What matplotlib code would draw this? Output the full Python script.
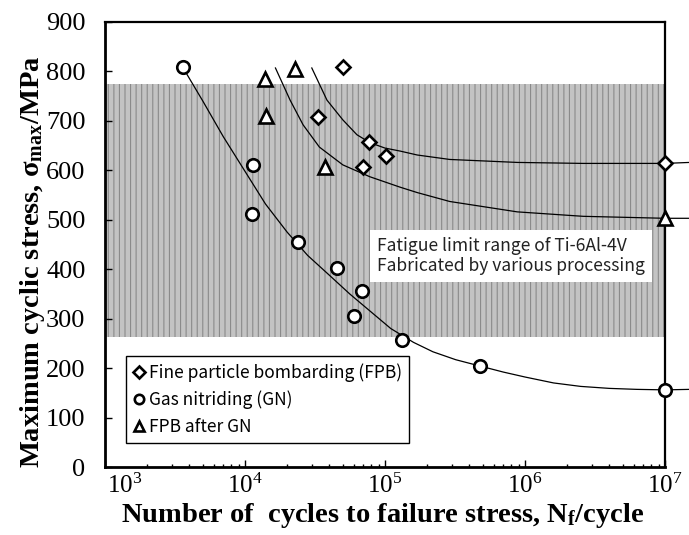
import matplotlib
matplotlib.use("Agg")
import matplotlib.pyplot as plt
import matplotlib.transforms as mtransforms
from matplotlib.ticker import FixedLocator, LogLocator, NullFormatter

plt.rcParams["font.family"] = "Liberation Serif"
plt.rcParams["mathtext.fontset"] = "custom"
plt.rcParams["mathtext.rm"] = "Liberation Serif"
plt.rcParams["mathtext.it"] = "Liberation Serif:italic"
plt.rcParams["mathtext.bf"] = "Liberation Serif:bold"
plt.rcParams["hatch.linewidth"] = 0.8

SANS = "Noto Sans CJK JP"

# measured fatigue lives (cycles) and stresses (MPa)
fpb_n = [5.03e4, 3.34e4, 7.73e4, 1.02e5, 6.93e4, 1e7]
fpb_s = [808, 707, 657, 630, 606, 614]

gn_n = [3.62e3, 1.135e4, 1.117e4, 2.38e4, 4.52e4, 6.83e4, 6.01e4, 1.33e5, 4.77e5, 1e7]
gn_s = [808, 611, 512, 455, 403, 356, 305, 257, 205, 156]

fpbgn_n = [1.39e4, 2.28e4, 1.41e4, 3.73e4, 1e7]
fpbgn_s = [784, 805, 709, 606, 503]

# S-N trend curves
gn_curve_n = [3.6e3, 5e3, 7e3, 1e4, 1.4e4, 2e4, 2.8e4, 4e4, 5.6e4, 8e4, 1.1e5, 1.6e5,
              2.2e5, 3.2e5, 4.8e5, 7e5, 1e6, 1.6e6, 2.5e6, 4e6, 6.3e6, 1e7, 1.5e7]
gn_curve_s = [808, 740, 668, 598, 532, 475, 428, 388, 350, 313, 280, 252,
              233, 217, 204, 192, 182, 170, 163, 159, 157, 156, 157]

fpbgn_curve_n = [1.65e4, 2.1e4, 2.6e4, 3.4e4, 5e4, 7.8e4, 1.28e5, 1.7e5, 2.9e5, 8.8e5,
                 2.6e6, 1e7, 1.5e7]
fpbgn_curve_s = [807, 742, 692, 647, 611, 587, 566, 555, 537, 516, 507, 503, 503]

fpb_curve_n = [3.0e4, 3.85e4, 5.0e4, 6.3e4, 7.8e4, 1.0e5, 1.28e5, 1.7e5, 2.9e5, 8.8e5,
               2.6e6, 1e7, 1.5e7]
fpb_curve_s = [807, 742, 702, 672, 656, 645, 639, 631, 622, 616, 614, 614, 616]

# fatigue limit band of Ti-6Al-4V (MPa)
band_low, band_high = 263, 775

x_ticks = [1e3, 1e4, 1e5, 1e6, 1e7]
x_ticklabels = [r"$\mathdefault{10^{3}}$", r"$\mathdefault{10^{4}}$", r"$\mathdefault{10^{5}}$",
                r"$\mathdefault{10^{6}}$", r"$\mathdefault{10^{7}}$"]
y_ticks = [0, 100, 200, 300, 400, 500, 600, 700, 800, 900]

fig = plt.figure(figsize=(6.89, 5.35), dpi=100)
ax = fig.add_axes([105 / 689, 68 / 535, 560 / 689, 445 / 535])
ax.set_xscale("log")
ax.set_xlim(1e3, 1e7)
ax.set_ylim(0, 900)

ax.axhspan(band_low, band_high, facecolor="#c3c3c3", edgecolor="#8a8a8a",
           hatch="|||", linewidth=0, zorder=0)

for cn, cs in [(gn_curve_n, gn_curve_s), (fpbgn_curve_n, fpbgn_curve_s), (fpb_curve_n, fpb_curve_s)]:
    ax.plot(cn, cs, color="black", lw=0.9, zorder=2, clip_on=False)

mk = dict(linestyle="none", mfc="white", mec="black", mew=1.9, zorder=4, clip_on=False)
ax.plot(fpb_n, fpb_s, marker="D", ms=7.5, label="Fine particle bombarding (FPB)", **mk)
ax.plot(gn_n, gn_s, marker="o", ms=9, label="Gas nitriding (GN)", **mk)
ax.plot(fpbgn_n, fpbgn_s, marker="^", ms=9.5, label="FPB after GN", **mk)

ax.text(0.486, 0.474, "Fatigue limit range of Ti-6Al-4V\nFabricated by various processing",
        transform=ax.transAxes, ha="left", va="center", fontsize=12.6, family=SANS,
        color="#222222", linespacing=1.2,
        bbox=dict(boxstyle="square,pad=0.4", fc="white", ec="none"), zorder=3)

leg = ax.legend(loc="lower left", bbox_to_anchor=(0.0375, 0.054), borderaxespad=0,
                prop={"family": SANS, "size": 12.5}, markerscale=0.75, handlelength=0.6,
                handletextpad=0.3, labelspacing=0.48, borderpad=0.42, fancybox=False,
                framealpha=1, edgecolor="black")
leg.get_frame().set_linewidth(1.0)
leg.set_zorder(5)

ax.xaxis.set_major_locator(FixedLocator(x_ticks))
ax.set_xticklabels(x_ticklabels)
ax.xaxis.set_minor_locator(LogLocator(base=10, subs=range(2, 10), numticks=20))
ax.xaxis.set_minor_formatter(NullFormatter())
ax.set_yticks(y_ticks)

ax.tick_params(axis="x", which="major", direction="in", length=5, width=1, labelsize=18, pad=5)
ax.tick_params(axis="x", which="minor", direction="in", length=2.5, width=1)
ax.tick_params(axis="y", direction="in", length=5, width=1, labelsize=19, pad=14)
for side in ["left", "bottom"]:
    ax.spines[side].set_linewidth(2.0)
for side in ["top", "right"]:
    ax.spines[side].set_linewidth(1.6)

# nudge the 10^3 label off the corner
first = ax.xaxis.get_major_ticks()[0].label1
first.set_transform(first.get_transform() + mtransforms.ScaledTranslation(0.2, 0, fig.dpi_scale_trans))

ax.set_xlabel(r"Number of  cycles to failure stress, $\mathbf{N_f}$/cycle", fontsize=20.5, fontweight="bold")
ax.xaxis.set_label_coords(0.495, -0.108)
ax.xaxis.label.set_va("center")
ax.set_ylabel(r"Maximum cyclic stress, $\mathbf{\sigma_{max}}$/MPa", fontsize=20.5, fontweight="bold")
ax.yaxis.set_label_coords(-0.13, 0.46)
ax.yaxis.label.set_va("center")

fig.savefig("out.png", dpi=100)
